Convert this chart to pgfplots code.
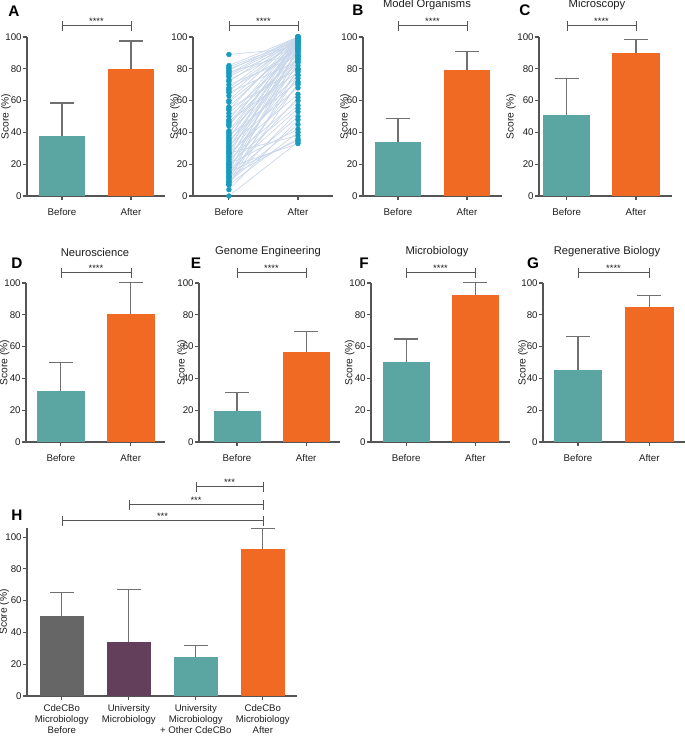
\documentclass[border=0pt]{standalone}
\usepackage{pgfplots}
\pgfplotsset{compat=1.18}
\usepackage{pgfplotstable}
\usepackage{fontspec}
\setmainfont{Liberation Sans}

\definecolor{Teal}{RGB}{91,166,163}
\definecolor{Orng}{RGB}{240,106,36}
\definecolor{Gry}{RGB}{102,102,102}
\definecolor{Purp}{RGB}{99,63,91}
\definecolor{DotC}{RGB}{24,156,188}
\definecolor{LineC}{RGB}{200,214,234}
\definecolor{AxC}{RGB}{85,85,85}
\definecolor{ErrC}{RGB}{112,112,112}
\definecolor{TxC}{RGB}{30,30,30}

% paired scores, panel A right (before / after)
\pgfplotstableread{
b a
89 93
82 100
81 98
80 96
79 100
78 90
77 100
76 99
75 97
73 95
72 100
70 88
68 100
67 92
66 99
65 85
63 100
60 100
59 94
56 97
55 80
54 100
52 91
50 86
48 100
47 78
46 96
45 89
44 100
41 96
40 84
39 98
38 72
37 93
36 100
35 76
34 88
33 95
32 68
31 87
30 100
29 82
28 91
27 64
27 38
26 97
25 74
24 86
23 60
22 100
21 79
20 57
20 42
19 92
18 70
18 33
17 84
16 55
15 99
15 35
14 62
13 88
12 50
12 36
11 76
10 94
9 45
9 53
8 80
7 40
7 71
4 48
0 34
}\paired

\pgfplotsset{
  P/.style={
    scale only axis, anchor=south west, clip=false,
    height=119.25pt,
    axis lines=left,
    axis line style={-, draw=AxC, line width=0.8pt},
    x axis line style={-}, y axis line style={-},
    tick align=outside, major tick length=3pt,
    tick style={draw=AxC, line width=0.8pt},
    ymin=0, ymax=100, ytick={0,20,40,60,80,100},
    xtick={0,1}, xticklabels={Before,After},
    ticklabel style={font=\fontsize{7.3}{8.5}\selectfont, text=TxC},
    xticklabel style={yshift=-2.5pt},
    yticklabel style={xshift=2.5pt},
    /pgf/number format/assume math mode=true,
    ylabel={Score (\%)},
    every axis y label/.style={at={(axis description cs:0,0.5)},
      rotate=90, anchor=center, font=\fontsize{7.7}{9}\selectfont, text=TxC},
  },
  yls/.style={every axis y label/.append style={yshift=#1}},
  Bar/.style={ybar, bar shift=0pt, bar width=0.68, fill=#1, draw=none,
    error bars/y dir=plus, error bars/y explicit,
    error bars/error bar style={draw=ErrC, line width=0.8pt},
    error bars/error mark options={rotate=90, draw=ErrC, line width=0.8pt, mark size=9pt}},
}

\newcommand\sig[4]{%
  \draw[AxC, line width=0.7pt] (#1,#3-4)--(#1,#3+6) (#1,#3)--(#2,#3) (#2,#3-4)--(#2,#3+6);
  \node[font=\fontsize{7}{8}\selectfont, anchor=base, inner sep=0pt, text=TxC]
    at ({(#1+#2)/2},#3-0.5) {#4};}

\begin{document}
\begin{tikzpicture}
\useasboundingbox (0pt,0pt) rectangle (513.75pt,-552pt);

% A
\begin{axis}[P, at={(27*0.75pt,-196*0.75pt)}, width=103.5pt,
  xmin=-0.507, xmax=1.493, yls=15.75pt]
\addplot[Bar=Teal] coordinates {(0,38) +- (0,20.5)};
\addplot[Bar=Orng] coordinates {(1,80) +- (0,17.5)};
\end{axis}

% A paired
\begin{axis}[P, at={(193*0.75pt,-196*0.75pt)}, width=105pt,
  xmin=-0.52, xmax=1.507, yls=13.5pt]
\addplot[LineC, line width=0.5pt, quiver={u=1, v=\thisrow{a}-\thisrow{b}}]
  table[x expr=0, y=b] {\paired};
\addplot[only marks, mark=*, mark size=1.8pt, DotC] table[x expr=0, y=b] {\paired};
\addplot[only marks, mark=*, mark size=1.8pt, DotC] table[x expr=1, y=a] {\paired};
\end{axis}

% B
\begin{axis}[P, at={(363*0.75pt,-196*0.75pt)}, width=104.25pt,
  xmin=-0.507, xmax=1.507, yls=13.5pt]
\addplot[Bar=Teal] coordinates {(0,34) +- (0,15)};
\addplot[Bar=Orng] coordinates {(1,79) +- (0,12)};
\end{axis}

% C
\begin{axis}[P, at={(539*0.75pt,-196*0.75pt)}, width=99.75pt,
  xmin=-0.40, xmax=1.52, yls=21pt]
\addplot[Bar=Teal] coordinates {(0,51) +- (0,23)};
\addplot[Bar=Orng] coordinates {(1,90) +- (0,8.5)};
\end{axis}

% D
\begin{axis}[P, at={(26*0.75pt,-442*0.75pt)}, width=104.25pt,
  xmin=-0.5, xmax=1.49, yls=16pt]
\addplot[Bar=Teal] coordinates {(0,32.3) +- (0,17.8)};
\addplot[Bar=Orng] coordinates {(1,80.5) +- (0,20)};
\end{axis}

% E
\begin{axis}[P, at={(199*0.75pt,-442*0.75pt)}, width=105.75pt,
  xmin=-0.55, xmax=1.49, yls=12.75pt]
\addplot[Bar=Teal] coordinates {(0,19.7) +- (0,11.6)};
\addplot[Bar=Orng] coordinates {(1,56.4) +- (0,13)};
\end{axis}

% F
\begin{axis}[P, at={(371*0.75pt,-442*0.75pt)}, width=104.25pt,
  xmin=-0.507, xmax=1.5, yls=16pt]
\addplot[Bar=Teal] coordinates {(0,50.1) +- (0,14.7)};
\addplot[Bar=Orng] coordinates {(1,92.5) +- (0,7.7)};
\end{axis}

% G
\begin{axis}[P, at={(543*0.75pt,-442*0.75pt)}, width=106.5pt,
  xmin=-0.49, xmax=1.5, yls=15pt]
\addplot[Bar=Teal] coordinates {(0,45.5) +- (0,20.7)};
\addplot[Bar=Orng] coordinates {(1,85.1) +- (0,6.9)};
\end{axis}

% H
\begin{axis}[P, at={(27*0.75pt,-696*0.75pt)}, width=202.5pt, height=126pt,
  ymax=105.7, xmin=-0.52, xmax=3.51, yls=17pt,
  xtick={0,1,2,3},
  xticklabels={{CdeCBo\\Microbiology\\Before},{University\\Microbiology},
    {University\\Microbiology\\+ Other CdeCBo},{CdeCBo\\Microbiology\\After}},
  xticklabel style={align=center, anchor=north, yshift=3pt,
    font=\fontsize{7.2}{8.6}\selectfont}]
\addplot[Bar=Gry, bar width=0.66] coordinates {(0,50.5) +- (0,14.5)};
\addplot[Bar=Purp, bar width=0.66] coordinates {(1,34.2) +- (0,33.1)};
\addplot[Bar=Teal, bar width=0.66] coordinates {(2,24.7) +- (0,6.9)};
\addplot[Bar=Orng, bar width=0.66] coordinates {(3,92.6) +- (0,12.9)};
\end{axis}

\begin{scope}[x=0.75pt, y=-0.75pt]
% panel letters
\begin{scope}[every node/.style={font=\bfseries\fontsize{11.5}{12}\selectfont, text=black, inner sep=0pt}]
\node at (14,11) {A};
\node at (358,10) {B};
\node at (525,10) {C};
\node at (17,263) {D};
\node at (196,263) {E};
\node at (364,263) {F};
\node at (533,263) {G};
\node at (17,515) {H};
\end{scope}
% titles
\begin{scope}[every node/.style={font=\fontsize{8.4}{10}\selectfont, text=TxC, inner sep=0pt}]
\node at (427,5) {Model Organisms};
\node at (597,5) {Microscopy};
\node at (95,252) {Neuroscience};
\node at (268,252) {Genome Engineering};
\node at (437,252) {Microbiology};
\node at (607,252) {Regenerative Biology};
\end{scope}
% significance brackets
\sig{62}{131}{25}{****}
\sig{229}{298}{25}{****}
\sig{398}{467}{25}{****}
\sig{567}{636}{25}{****}
\sig{61}{131}{272}{****}
\sig{237}{306}{272}{****}
\sig{406}{475}{272}{****}
\sig{578}{649}{272}{****}
\sig{196}{263}{486}{***}
\sig{129}{263}{504}{***}
\sig{62}{263}{520}{***}
\end{scope}

\end{tikzpicture}
\end{document}
